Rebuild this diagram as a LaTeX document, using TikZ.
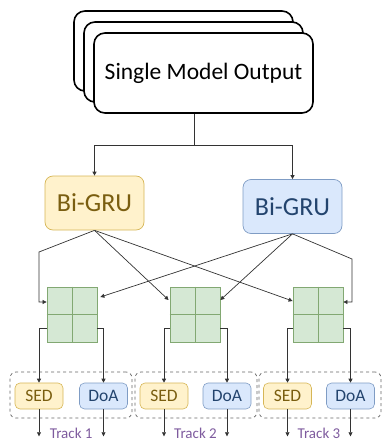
\documentclass[tikz,border=0pt]{standalone}
\usepackage{fontspec}
\setmainfont{Carlito}
\usetikzlibrary{arrows.meta,calc}

\definecolor{yfill}{HTML}{FFF2CC}
\definecolor{ydraw}{HTML}{D6B656}
\definecolor{ytext}{HTML}{7A5E10}
\definecolor{bfill}{HTML}{DAE8FC}
\definecolor{bdraw}{HTML}{7F9CC4}
\definecolor{btext}{HTML}{23446E}
\definecolor{gfill}{HTML}{D5E8D4}
\definecolor{gdraw}{HTML}{82A872}
\definecolor{trk}{HTML}{7E5B9E}
\definecolor{wire}{HTML}{333333}

\tikzset{
  x=1pt, y=-1pt,
  outbox/.style={draw=black, line width=1.6pt, fill=white, rounded corners=11pt,
    minimum width=219pt, minimum height=80pt, inner sep=0pt},
  grubox/.style={rounded corners=8pt, line width=0.7pt, minimum width=99pt,
    minimum height=54pt, inner sep=0pt, font=\fontsize{26}{28}\selectfont},
  ygru/.style={grubox, fill=yfill, draw=ydraw, text=ytext},
  bgru/.style={grubox, fill=bfill, draw=bdraw, text=btext},
  cell/.style={fill=gfill, draw=gdraw, line width=0.8pt, minimum width=50pt,
    minimum height=55pt, inner sep=0pt},
  taskbox/.style={rounded corners=5pt, line width=0.6pt, minimum width=48pt,
    minimum height=26pt, inner sep=0pt, font=\fontsize{17.5}{19}\selectfont},
  sedbox/.style={taskbox, fill=yfill, draw=ydraw, text=ytext},
  doabox/.style={taskbox, fill=bfill, draw=bdraw, text=btext},
  trackbox/.style={draw=gray!80!black, dashed, line width=0.7pt, rounded corners=6pt,
    minimum width=122pt, minimum height=46pt, inner sep=0pt},
  tracklabel/.style={text=trk, font=\fontsize{15}{16}\selectfont, inner sep=0pt, anchor=base},
  link/.style={draw=wire, line width=0.7pt, -{Triangle[length=4pt,width=4pt]}},
}

\begin{document}
\begin{tikzpicture}
\useasboundingbox (0,0) rectangle (381,441);

% stacked output boxes
\node[outbox] (out3) at (183.5,51) {};
\node[outbox] (out2) at (193.5,62) {};
\node[outbox, font=\fontsize{23.5}{26}\selectfont] (out) at (203.5,73) {Single Model Output};

% recurrent layers
\node[ygru] (gruA) at (94.5,203) {Bi-GRU};
\node[bgru] (gruB) at (292.5,206.5) {Bi-GRU};

% output split
\coordinate (split) at (194,145);
\draw[wire, line width=0.7pt] ($(out.south)+(-9.5,0)$) -- (split);
\draw[link] (split) -| (gruA.north);
\draw[link] (split) -| (gruB.north);

% 2x2 fusion blocks
\foreach \n/\cx in {1/72, 2/195, 3/318} {
  \node[cell] (g\n) at (\cx,314.5) {};
  \draw[gdraw, line width=0.8pt] (g\n.north) -- (g\n.south);
  \draw[gdraw, line width=0.8pt] (g\n.west) -- (g\n.east);
}

% routing from the recurrent layers to the fusion blocks
\coordinate (bendA) at (39,252);
\coordinate (bendB) at (352,259);
\draw[link] (gruA.south) -- (bendA) |- ($(g1.west)+(0,-12.5)$);
\draw[link] (gruA.south) -- ($(g2.west)+(-1,-14.5)$);
\draw[link] (gruA.south) -- ($(g3.west)+(0,-13.5)$);
\draw[link] (gruB.south) -- (bendB) |- ($(g3.east)+(0,-12.5)$);
\draw[link] (gruB.south) -- ($(g1.east)+(3,-17.5)$);
\draw[link] (gruB.south) -- ($(g2.east)+(0,-14.5)$);

% track groups
\foreach \n/\cx in {1/71, 2/196, 3/320} {
  \node[trackbox] (tb\n) at (\cx,395) {};
}
\node[sedbox] (sed1) at (39,396) {SED};
\node[doabox] (doa1) at (103.5,396) {DoA};
\node[sedbox] (sed2) at (164,396) {SED};
\node[doabox] (doa2) at (227,396) {DoA};
\node[sedbox] (sed3) at (287.5,396) {SED};
\node[doabox] (doa3) at (350.5,396) {DoA};

\foreach \n in {1,2,3} {
  \draw[link] ($(g\n.west)+(0,13.5)$) -| (sed\n.north);
  \draw[link] ($(g\n.east)+(0,13.5)$) -| (doa\n.north);
  \coordinate (es\n) at ($(sed\n.south)+(0,27)$);
  \coordinate (ed\n) at ($(doa\n.south)+(0,27)$);
  \draw[link] (sed\n.south) -- (es\n);
  \draw[link] (doa\n.south) -- (ed\n);
  \node[tracklabel] (tl\n) at ($(es\n)!0.5!(ed\n)+(0,2)$) {Track \n};
}
\end{tikzpicture}
\end{document}
